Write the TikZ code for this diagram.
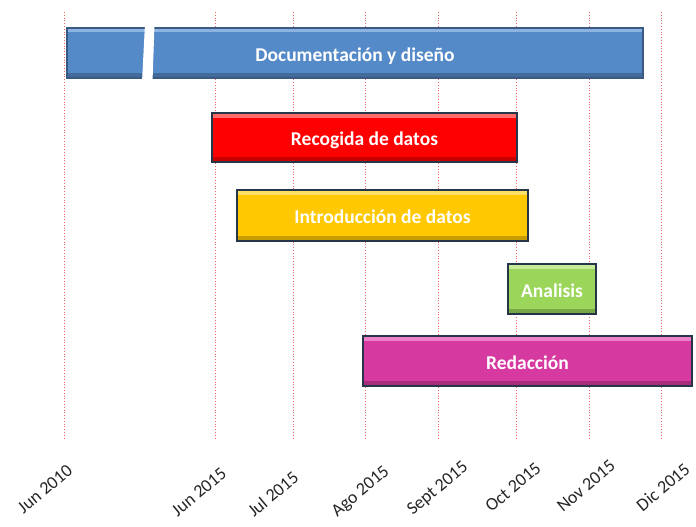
\documentclass[tikz,border=0pt]{standalone}
\usepackage{fontspec}
\setmainfont{Carlito}
\definecolor{gblue}{HTML}{558AC8}
\definecolor{gblueL}{HTML}{8DB3E2}
\definecolor{gblueB}{HTML}{3A5A82}
\definecolor{gred}{HTML}{FF0000}
\definecolor{gredL}{HTML}{FF6A6A}
\definecolor{ggold}{HTML}{FFC800}
\definecolor{ggoldL}{HTML}{FFE066}
\definecolor{ggreen}{HTML}{9BD65A}
\definecolor{ggreenL}{HTML}{C6EA98}
\definecolor{gmag}{HTML}{D63AA0}
\definecolor{gmagL}{HTML}{EE80C8}
\definecolor{gborder}{HTML}{263548}
\definecolor{gridred}{HTML}{F04040}
\tikzset{
  gbar/.style n args={3}{draw=#3, fill=#1, line width=1.6pt, text=white,
    font=\bfseries\fontsize{19.5}{21}\selectfont, inner sep=0pt,
    text height=18pt, text depth=1.5pt,
    path picture={
      \fill[#2] ([yshift=-1pt]path picture bounding box.north west) rectangle ([yshift=-4.5pt]path picture bounding box.north east);
      \fill[black,opacity=0.22] (path picture bounding box.south west) rectangle ([yshift=5pt]path picture bounding box.south east);
    }},
  gridline/.style={draw=gridred, dotted, line width=0.8pt, opacity=0.8},
  axlabel/.style={rotate=40, font=\fontsize{18}{20}\selectfont, text=black!85, inner sep=0pt}
}
\begin{document}
\begin{tikzpicture}[x=1pt,y=1pt]
\useasboundingbox (0,0) rectangle (696,-527);
% grid lines
\foreach \n/\x in {g1/64,g2/215,g3/293,g4/365,g5/438,g6/516,g7/589,g8/661}{
  \coordinate (\n top) at (\x,-12);
  \coordinate (\n bot) at (\x,-440);
  \draw[gridline] (\n top) -- (\n bot);
}
% bars
\node[gbar={gblue}{gblueL}{gblueB}, minimum width=576pt, minimum height=50pt] (doc) at (355,-53) {Documentación y diseño};
\fill[white] (145,-24) -- (154.5,-24) -- (152.5,-82) -- (142,-82) -- cycle;
\node[gbar={gred}{gredL}{gborder}, minimum width=305pt, minimum height=49pt] (rec) at (364.5,-137.5) {Recogida de datos};
\node[gbar={ggold}{ggoldL}{gborder}, minimum width=291pt, minimum height=51pt] (intro) at (382.5,-215.5) {Introducción de datos};
\node[gbar={ggreen}{ggreenL}{gborder}, minimum width=88pt, minimum height=50pt] (ana) at (552,-289) {Analisis};
\node[gbar={gmag}{gmagL}{gborder}, minimum width=329pt, minimum height=50pt] (red) at (527.5,-361) {Redacción};
% axis labels
\node[axlabel] (l1) at (45,-489) {Jun 2010};
\node[axlabel] (l2) at (199,-492) {Jun 2015};
\node[axlabel] (l3) at (273,-494) {Jul 2015};
\node[axlabel] (l4) at (361,-492) {Ago 2015};
\node[axlabel] (l5) at (438,-489) {Sept 2015};
\node[axlabel] (l6) at (513,-487) {Oct 2015};
\node[axlabel] (l7) at (586,-486) {Nov 2015};
\node[axlabel] (l8) at (663,-487) {Dic 2015};
\end{tikzpicture}
\end{document}
